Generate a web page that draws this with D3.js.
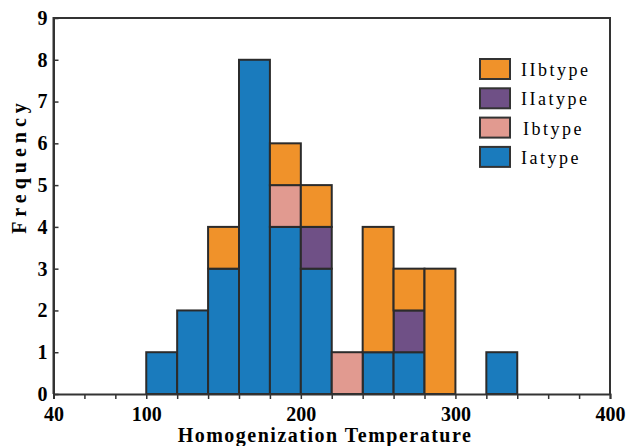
<!DOCTYPE html>
<html>
<head>
<meta charset="utf-8">
<script src="https://cdn.jsdelivr.net/npm/d3@7"></script>
<style>
  body { margin: 0; background: #fff; }
  text { font-family: "Liberation Serif", "Times New Roman", serif; }
</style>
</head>
<body>
<div id="chart"></div>
<script>
// bin starts (bin width 20)
var binStart = [100, 120, 140, 160, 180, 200, 220, 240, 260, 280, 300, 320];
var binWidth = 20;
// counts per type
var iaType  = [1, 2, 3, 8, 4, 3, 0, 1, 1, 0, 0, 1];
var ibType  = [0, 0, 0, 0, 1, 0, 1, 0, 0, 0, 0, 0];
var iiaType = [0, 0, 0, 0, 0, 1, 0, 0, 1, 0, 0, 0];
var iibType = [0, 0, 1, 0, 1, 1, 0, 3, 1, 3, 0, 0];

var seriesNames = ["Iatype", "Ibtype", "IIatype", "IIbtype"];
var seriesColors = ["#1a7bbd", "#e19a90", "#6f5086", "#f0922a"];
var xTickLabels = [40, 100, 200, 300, 400];
var yTicks = [0, 1, 2, 3, 4, 5, 6, 7, 8, 9];

function init() {
    var w = 628, h = 446;
    var left = 53.5, right = 610, top = 18, bottom = 394;

    var table = binStart.map(function(b, i) {
        return { bin: b, Iatype: iaType[i], Ibtype: ibType[i], IIatype: iiaType[i], IIbtype: iibType[i] };
    });

    var xScale = d3.scaleLinear().domain([40, 400]).range([left, right]);
    var yScale = d3.scaleLinear().domain([0, 9]).range([bottom, top]);
    var color = d3.scaleOrdinal().domain(seriesNames).range(seriesColors);

    var svg = d3.select("#chart").append("svg")
        .attr("width", w)
        .attr("height", h);

    var stacked = d3.stack().keys(seriesNames)(table);

    //bars
    svg.append("g").selectAll("g")
        .data(stacked)
        .enter().append("g")
        .attr("fill", function(d) { return color(d.key); })
        .selectAll("rect")
        .data(function(d) { return d.filter(function(s) { return s[1] > s[0]; }); })
        .enter().append("rect")
        .attr("x", function(d) { return xScale(d.data.bin); })
        .attr("y", function(d) { return yScale(d[1]); })
        .attr("width", function(d) { return xScale(d.data.bin + binWidth) - xScale(d.data.bin); })
        .attr("height", function(d) { return yScale(d[0]) - yScale(d[1]); })
        .attr("stroke", "#2b2b2b")
        .attr("stroke-width", 2);

    //frame
    svg.append("path")
        .attr("d", "M" + left + "," + bottom + "V" + top + "H" + right + "V" + bottom)
        .attr("fill", "none")
        .attr("stroke", "#333")
        .attr("stroke-width", 2);

    var xAxis = d3.axisBottom(xScale)
        .tickValues(d3.range(40, 401, 20))
        .tickSize(5)
        .tickFormat(function(d) { return xTickLabels.indexOf(d) >= 0 ? d : ""; });

    var gx = svg.append("g")
        .attr("transform", "translate(0," + bottom + ")")
        .call(xAxis);
    gx.select(".domain").attr("stroke", "#333").attr("stroke-width", 2);
    gx.selectAll(".tick line").attr("stroke", "#333").attr("stroke-width", 1.5);
    gx.selectAll(".tick text")
        .attr("y", 13)
        .attr("fill", "#000")
        .style("font-size", "20px")
        .style("font-weight", "bold");

    var yAxis = d3.axisLeft(yScale)
        .tickValues(yTicks)
        .tickSizeInner(-5)
        .tickSizeOuter(0)
        .tickPadding(6);

    var gy = svg.append("g")
        .attr("transform", "translate(" + left + ",0)")
        .call(yAxis);
    gy.select(".domain").attr("stroke", "#333").attr("stroke-width", 2);
    gy.selectAll(".tick line").attr("stroke", "#333").attr("stroke-width", 1.5);
    gy.selectAll(".tick text")
        .attr("fill", "#000")
        .style("font-size", "20px")
        .style("font-weight", "bold");

    //axis titles
    svg.append("text")
        .attr("x", 325)
        .attr("y", 442)
        .attr("text-anchor", "middle")
        .style("font-size", "20px")
        .style("font-weight", "bold")
        .style("letter-spacing", "1.5px")
        .text("Homogenization Temperature");

    svg.append("text")
        .attr("transform", "translate(26,166) rotate(-90)")
        .attr("text-anchor", "middle")
        .style("font-size", "20px")
        .style("font-weight", "bold")
        .style("letter-spacing", "5px")
        .text("Frequency");

    //legend
    var legendOrder = seriesNames.slice().reverse();
    var legend = svg.append("g").selectAll("g")
        .data(legendOrder)
        .enter().append("g")
        .attr("transform", function(d, i) { return "translate(480," + (59 + i * 29.3) + ")"; });

    legend.append("rect")
        .attr("width", 30)
        .attr("height", 20)
        .attr("fill", function(d) { return color(d); })
        .attr("stroke", "#333")
        .attr("stroke-width", 2);

    legend.append("text")
        .attr("x", function(d) { return d === "Ibtype" ? 43 : 41; })
        .attr("y", 17)
        .style("font-size", "18px")
        .style("letter-spacing", "2.5px")
        .text(function(d) { return d; });
}
window.onload = init;
</script>
</body>
</html>
